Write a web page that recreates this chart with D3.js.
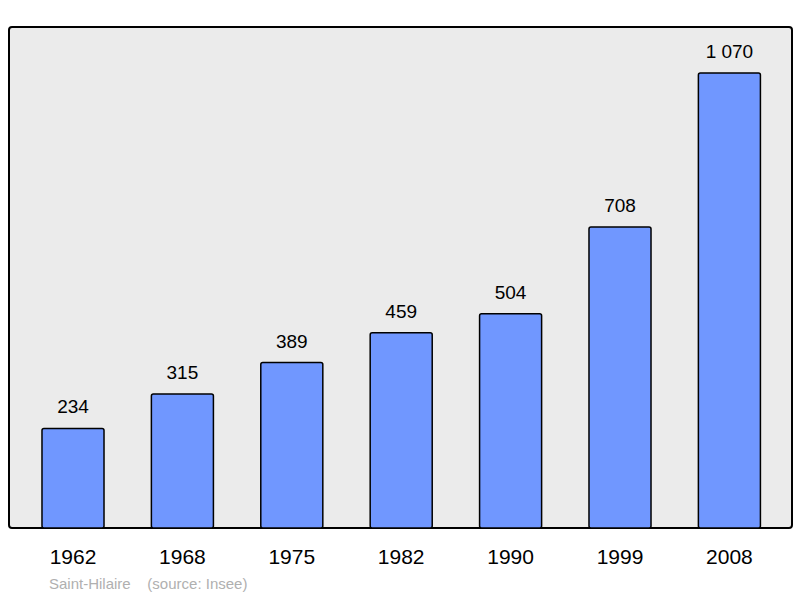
<!DOCTYPE html>
<html><head><meta charset="utf-8">
<script src="https://cdn.jsdelivr.net/npm/d3@7"></script>
<style>body{margin:0;background:#fff}</style>
</head><body>
<script>
var years = ["1962","1968","1975","1982","1990","1999","2008"];
var population = [234,315,389,459,504,708,1070];
var valueLabels = ["234","315","389","459","504","708","1 070"];

var svg = d3.select("body").append("svg").attr("width",800).attr("height",598);

// plot frame
svg.append("rect")
  .attr("x",9).attr("y",27).attr("width",783).attr("height",501)
  .attr("rx",3).attr("fill","#ebebeb").attr("stroke","#000").attr("stroke-width",2);

var x = d3.scaleBand().domain(years).range([18.3,784.1])
  .paddingInner(0.433).paddingOuter(0.2165);
var y = d3.scaleLinear().domain([0,1070]).range([528,73]);

svg.append("g").selectAll("rect").data(population).enter().append("rect")
  .attr("x",function(d,i){return x(years[i]);})
  .attr("y",function(d){return y(d);})
  .attr("width",x.bandwidth())
  .attr("height",function(d){return y(0)-y(d);})
  .attr("rx",2)
  .attr("fill","#7097ff").attr("stroke","#000").attr("stroke-width",1.5);

svg.append("g").selectAll("text").data(population).enter().append("text")
  .attr("x",function(d,i){return x(years[i])+x.bandwidth()/2;})
  .attr("y",function(d){return y(d)-15;})
  .attr("text-anchor","middle")
  .attr("font-family","Liberation Sans, Arial, sans-serif").attr("font-size",19)
  .text(function(d,i){return valueLabels[i];});

svg.append("g").selectAll("text").data(years).enter().append("text")
  .attr("x",function(d){return x(d)+x.bandwidth()/2;})
  .attr("y",564)
  .attr("text-anchor","middle")
  .attr("font-family","Liberation Sans, Arial, sans-serif").attr("font-size",21)
  .text(function(d){return d;});

svg.append("text").attr("x",49).attr("y",589)
  .attr("font-family","Liberation Sans, Arial, sans-serif").attr("font-size",15)
  .attr("fill","#b0b0b0").attr("xml:space","preserve")
  .text("Saint-Hilaire    (source: Insee)");
</script>
</body></html>
